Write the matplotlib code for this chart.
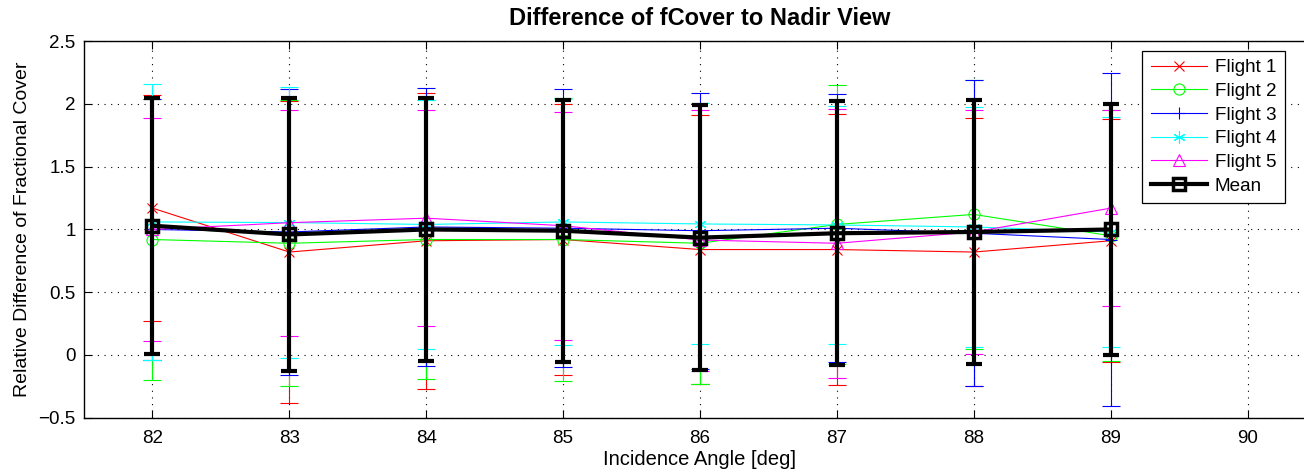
import numpy as np
import matplotlib
matplotlib.use("Agg")
import matplotlib.pyplot as plt

plt.rcParams['font.family'] = ['Liberation Sans', 'DejaVu Sans']

# incidence angles
angles = [82, 83, 84, 85, 86, 87, 88, 89]

# relative difference per flight (value, +/- error)
flight1 = [1.17, 0.82, 0.91, 0.92, 0.84, 0.84, 0.82, 0.91]
flight1_err = [0.90, 1.20, 1.18, 1.08, 1.07, 1.08, 1.07, 0.97]
flight2 = [0.92, 0.89, 0.92, 0.92, 0.89, 1.04, 1.12, 0.95]
flight2_err = [1.12, 1.14, 1.11, 1.13, 1.12, 1.11, 1.07, 1.00]
flight3 = [1.00, 0.98, 1.02, 1.01, 0.99, 1.01, 0.97, 0.92]
flight3_err = [1.04, 1.14, 1.11, 1.11, 1.10, 1.07, 1.22, 1.33]
flight4 = [1.06, 1.055, 1.04, 1.06, 1.044, 1.036, 1.02, 0.98]
flight4_err = [1.10, 1.08, 0.99, 0.98, 0.96, 0.945, 0.96, 0.92]
flight5 = [1.00, 1.054, 1.09, 1.03, 0.916, 0.89, 0.98, 1.17]
flight5_err = [0.89, 0.90, 0.86, 0.91, 1.04, 1.07, 0.97, 0.78]
mean_val = [1.03, 0.96, 1.00, 0.99, 0.935, 0.97, 0.98, 1.00]
mean_err = [1.02, 1.087, 1.05, 1.045, 1.055, 1.05, 1.055, 1.00]

# asterisk marker like the classic '*' (six arms made of lines)
asterisk = (6, 2, 0)

flights = [
    ("Flight 1", flight1, flight1_err, "#ff0000", "x", 7),
    ("Flight 2", flight2, flight2_err, "#00ff00", "o", 8),
    ("Flight 3", flight3, flight3_err, "#0000ff", "+", 9),
    ("Flight 4", flight4, flight4_err, "#00ffff", asterisk, 9),
    ("Flight 5", flight5, flight5_err, "#ff00ff", "^", 9),
]

fig = plt.figure(figsize=(13.04, 4.71), dpi=100)
ax = fig.add_axes([0.0644, 0.1132, 0.9448, 0.7992])
ax.patch.set_visible(False)

for name, vals, err, col, mk, ms in flights:
    ax.errorbar(angles, vals, yerr=err, fmt='none', ecolor=col,
                elinewidth=0.8, capsize=6.5, capthick=0.8, zorder=2)
    ax.plot(angles, vals, color=col, lw=0.8, marker=mk, ms=ms,
            mfc='none', mec=col, mew=0.8, label=name, zorder=3)

ax.errorbar(angles, mean_val, yerr=mean_err, fmt='none', ecolor='black',
            elinewidth=3, capsize=5.5, capthick=3, zorder=4)
ax.plot(angles, mean_val, color='black', lw=3, marker='s', ms=8,
        mfc='none', mec='black', mew=2.5, label="Mean", zorder=5)

ax.set_xlim(81.5, 90.5)
ax.set_ylim(-0.5, 2.5)
ax.set_xticks(range(82, 91))
ax.set_yticks([-0.5, 0, 0.5, 1, 1.5, 2, 2.5])
ax.set_yticklabels(["\u22120.5", "0", "0.5", "1", "1.5", "2", "2.5"])
ax.tick_params(direction='in', length=6, width=0.8, top=True, right=False,
               labelsize=13.5, pad=6)
ax.tick_params(axis='x', pad=9)
ax.grid(True, linestyle=(0, (1, 5)), color='black', linewidth=0.8)
for s in ax.spines.values():
    s.set_linewidth(1.0)
ax.spines['right'].set_visible(False)

ax.set_title("Difference of fCover to Nadir View", fontsize=17,
             fontweight='bold', pad=12)
ax.set_xlabel("Incidence Angle [deg]", fontsize=14.5, labelpad=2)
ax.set_ylabel("Relative Difference of Fractional Cover", fontsize=14,
              labelpad=5)

leg = ax.legend(loc='upper left', bbox_to_anchor=(0.8588, 0.975),
                fontsize=13.6, handlelength=3.0, labelspacing=0.34,
                borderpad=0.45, handletextpad=0.4, borderaxespad=0,
                fancybox=False, framealpha=1, edgecolor='black')
leg.get_frame().set_linewidth(0.9)

fig.savefig("out.png", dpi=100)
